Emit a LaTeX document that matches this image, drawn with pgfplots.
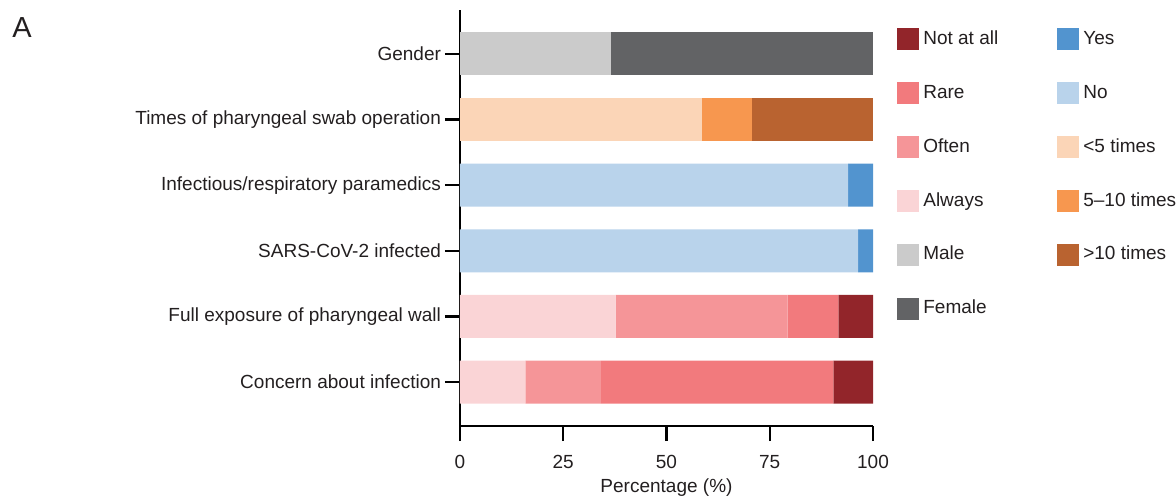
\documentclass[border=0pt]{standalone}
\usepackage{fontspec}
\setmainfont{Liberation Sans}
\usepackage{pgfplots}
\pgfplotsset{compat=1.18}
\definecolor{cNot}{HTML}{92252A}
\definecolor{cRare}{HTML}{F27A7D}
\definecolor{cOften}{HTML}{F59598}
\definecolor{cAlways}{HTML}{FAD4D6}
\definecolor{cMale}{HTML}{CBCBCB}
\definecolor{cFemale}{HTML}{626365}
\definecolor{cYes}{HTML}{5294CF}
\definecolor{cNo}{HTML}{B9D3EB}
\definecolor{cLt}{HTML}{FBD5B7}
\definecolor{cMid}{HTML}{F7974F}
\definecolor{cGt}{HTML}{B96330}
\definecolor{txt}{HTML}{231F20}
\begin{document}
\begin{tikzpicture}
\begin{axis}[name=ax,
  scale only axis, width=206.5pt, height=208pt,
  xbar stacked, bar width=21.5pt,
  xmin=0, xmax=100, ymin=-0.67, ymax=5.67,
  enlargelimits=false,
  ytick={0,...,5},
  yticklabels={Concern about infection, Full exposure of pharyngeal wall, SARS-CoV-2 infected, Infectious/respiratory paramedics, Times of pharyngeal swab operation, Gender},
  xtick={0,25,50,75,100},
  axis x line*=bottom, axis y line*=left,
  axis line style={line width=1.2pt, -},
  tick style={line width=1.2pt, black},
  tick align=outside,
  major tick length=7.5pt,
  ticklabel style={font=\fontsize{9.5}{11}\selectfont, text=txt},
  xticklabel style={yshift=-3.5pt},
  yticklabel style={xshift=1.5pt},
  /pgf/number format/assume math mode=true,
  xlabel={Percentage (\%)},
  xlabel style={font=\fontsize{9.5}{11}\selectfont, text=txt, yshift=2pt},
  legend columns=2,
  legend cell align=left,
  legend image code/.code={\fill[#1] (0pt,-5.5pt) rectangle (11pt,5.5pt);},
  legend style={at={(1.058,0.96)}, anchor=north west, draw=none, fill=none,
    inner sep=0pt, font=\fontsize{9.5}{11}\selectfont, text=txt,
    row sep=14.6pt, /tikz/column 2/.style={column sep=27.5pt}},
]
\addlegendimage{fill=cNot, draw=none}
\addlegendimage{fill=cYes, draw=none}
\addlegendimage{fill=cRare, draw=none}
\addlegendimage{fill=cNo, draw=none}
\addlegendimage{fill=cOften, draw=none}
\addlegendimage{fill=cLt, draw=none}
\addlegendimage{fill=cAlways, draw=none}
\addlegendimage{fill=cMid, draw=none}
\addlegendimage{fill=cMale, draw=none}
\addlegendimage{fill=cGt, draw=none}
\addlegendimage{fill=cFemale, draw=none}
\legend{Not at all, Yes, Rare, No, Often, {<5 times}, Always, {5--10 times}, Male, {>10 times}, Female}
% order: Concern(0), Full exposure(1), SARS(2), Infectious(3), Times(4), Gender(5)
\addplot[forget plot, fill=cAlways, draw=none] coordinates {(15.8,0) (37.7,1) (0,2) (0,3) (0,4) (0,5)};
\addplot[forget plot, fill=cOften, draw=none] coordinates {(18.3,0) (41.6,1) (0,2) (0,3) (0,4) (0,5)};
\addplot[forget plot, fill=cRare, draw=none] coordinates {(56.3,0) (12.3,1) (0,2) (0,3) (0,4) (0,5)};
\addplot[forget plot, fill=cNot, draw=none] coordinates {(9.6,0) (8.4,1) (0,2) (0,3) (0,4) (0,5)};
\addplot[forget plot, fill=cNo, draw=none] coordinates {(0,0) (0,1) (96.4,2) (94.0,3) (0,4) (0,5)};
\addplot[forget plot, fill=cYes, draw=none] coordinates {(0,0) (0,1) (3.6,2) (6.0,3) (0,4) (0,5)};
\addplot[forget plot, fill=cLt, draw=none] coordinates {(0,0) (0,1) (0,2) (0,3) (58.6,4) (0,5)};
\addplot[forget plot, fill=cMid, draw=none] coordinates {(0,0) (0,1) (0,2) (0,3) (12.2,4) (0,5)};
\addplot[forget plot, fill=cGt, draw=none] coordinates {(0,0) (0,1) (0,2) (0,3) (29.2,4) (0,5)};
\addplot[forget plot, fill=cMale, draw=none] coordinates {(0,0) (0,1) (0,2) (0,3) (0,4) (36.6,5)};
\addplot[forget plot, fill=cFemale, draw=none] coordinates {(0,0) (0,1) (0,2) (0,3) (0,4) (63.4,5)};
\end{axis}
\node[anchor=north west, inner sep=0pt, font=\fontsize{14.5}{16}\selectfont, text=txt] at ([shift={(-224pt,-3.5pt)}]ax.north west) {A};
\pgfresetboundingbox
\useasboundingbox ([shift={(-230pt,-36pt)}]ax.south west) rectangle ([shift={(358pt,213pt)}]ax.south west);
\end{tikzpicture}
\end{document}
